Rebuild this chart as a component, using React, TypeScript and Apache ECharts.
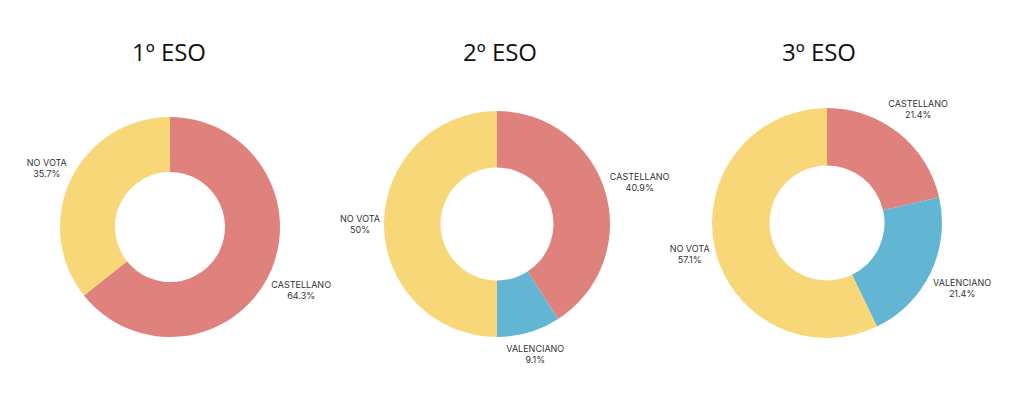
import React, { useEffect, useRef } from "react";
import * as echarts from "echarts";

const titles = ["1º ESO", "2º ESO", "3º ESO"];
const eso1Names = ["CASTELLANO", "NO VOTA"];
const eso1Values = [64.3, 35.7];
const eso2Names = ["CASTELLANO", "VALENCIANO", "NO VOTA"];
const eso2Values = [40.9, 9.1, 50];
const eso3Names = ["CASTELLANO", "VALENCIANO", "NO VOTA"];
const eso3Values = [21.4, 21.4, 57.1];

const colorByName: Record<string, string> = {
  CASTELLANO: "#DF827D",
  VALENCIANO: "#63B6D3",
  "NO VOTA": "#F8D779",
};

const seriesNames = [eso1Names, eso2Names, eso3Names];
const seriesValues = [eso1Values, eso2Values, eso3Values];

// layout (pixels)
const centers = [
  [170, 227],
  [497, 224],
  [827, 223],
];
const titleX = [164, 495, 814];
const outerR = [110, 113, 115];
const labelOffset = 4;

export default function App() {
  const ref = useRef<HTMLDivElement>(null);
  useEffect(() => {
    if (!ref.current) return;
    const chart = echarts.init(ref.current, null, { renderer: "svg" });
    const series = seriesValues.map((vals, s) => ({
      type: "pie",
      name: titles[s],
      center: centers[s],
      radius: [outerR[s] / 2, outerR[s]],
      startAngle: 90,
      clockwise: true,
      avoidLabelOverlap: false,
      itemStyle: { borderColor: "#fff", borderWidth: 0 },
      emphasis: { disabled: true },
      label: {
        show: true,
        position: "outside",
        formatter: "{b}\n{c}%",
        fontFamily: "Inter",
        fontSize: 9,
        lineHeight: 11,
        color: "#333",
      },
      labelLine: { show: false },
      labelLayout: (p: any) => {
        const total = vals.reduce((a, b) => a + b, 0);
        let cum = 0;
        for (let i = 0; i < p.dataIndex; i++) cum += vals[i];
        const frac = (cum + vals[p.dataIndex] / 2) / total;
        const th = frac * Math.PI * 2;
        const dx = Math.sin(th);
        const dy = -Math.cos(th);
        const w = p.labelRect.width;
        const h = p.labelRect.height;
        const D = outerR[s] + labelOffset + Math.abs(dx) * w / 2 + Math.abs(dy) * h / 2;
        return {
          x: centers[s][0] + dx * D,
          y: centers[s][1] + dy * D,
          align: "center",
          verticalAlign: "middle",
        };
      },
      data: vals.map((v, i) => ({
        name: seriesNames[s][i],
        value: v,
        itemStyle: { color: colorByName[seriesNames[s][i]] },
      })),
    }));
    chart.setOption({
      animation: false,
      backgroundColor: "#fff",
      title: titles.map((t, s) => ({
        text: t,
        left: titleX[s],
        top: 34,
        textAlign: "center",
        textStyle: {
          fontFamily: "Open Sans",
          fontSize: 24,
          fontWeight: "normal",
          color: "#111",
        },
      })),
      series,
    });
    return () => chart.dispose();
  }, []);
  return (
    <div
      ref={ref}
      style={{ position: "fixed", left: 0, top: 0, width: 1024, height: 395 }}
    />
  );
}
